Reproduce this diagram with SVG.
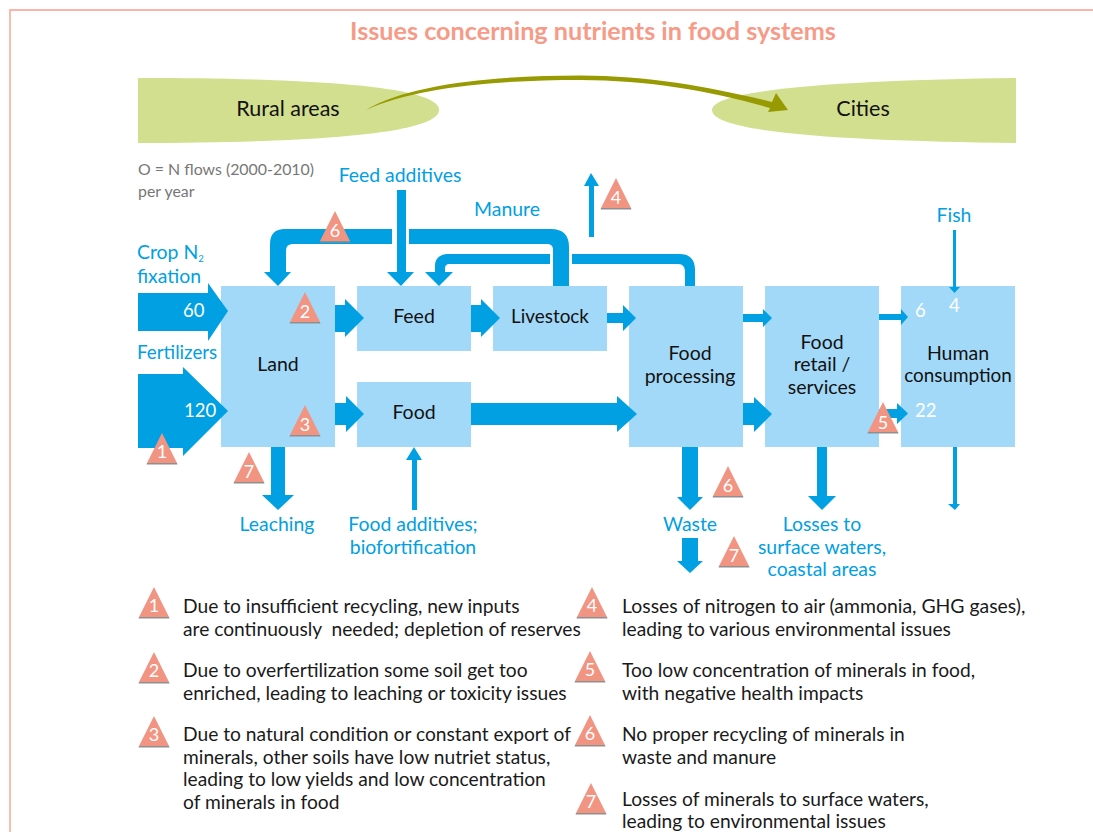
<svg xmlns="http://www.w3.org/2000/svg" width="1093" height="832" viewBox="0 0 1093 832">
<style>
text{font-family:"Lato","Liberation Sans",sans-serif}
.n{fill:#a3d9f8}
.z{fill:#d1df8f}
.f{fill:#00a0e3}
.t{font-size:19.500px;fill:#111;text-anchor:middle}
.zt{font-size:21.500px;fill:#111;text-anchor:middle}
.b{font-size:19.400px;fill:#00a0e3}
.m{text-anchor:middle}
.w{font-size:18.500px;fill:#fff}
.l{font-size:19.200px;fill:#1a1a1a}
.tri{fill:#f29482;stroke:none}
.sh{fill:#8f8f8f}
.tn{font-size:18px;fill:#fff;text-anchor:middle}
</style>
<defs>
<g id="tr"><path class="sh" d="M-15 0H15L15.500 1.500H-15.500Z"/><path class="tri" d="M0-30L15 0H-15Z"/></g>
</defs>
<path d="M1093 10H10V832" fill="none" stroke="#fbb5a8" stroke-width="1.800"/>
<text x="593" y="40" font-size="25.200" font-weight="700" fill="#f79a87" text-anchor="middle">Issues concerning nutrients in food systems</text>

<g id="rural"><path class="z" d="M138 78C300 78 439 85 439 110C439 135 300 143 138 143Z"/><text class="zt" x="288" y="116">Rural areas</text></g>
<g id="cities"><path class="z" d="M1016 78C860 80 712 88 712 110C712 134 860 141 1016 143Z"/><text class="zt" x="863" y="116">Cities</text></g>

<text x="138" y="175" font-size="15.900" fill="#777">O = N flows (2000-2010)</text>
<text x="138" y="197" font-size="15.900" fill="#777">per year</text>

<g id="land"><rect class="n" x="221" y="286" width="114" height="161"/><text class="t" x="278" y="371">Land</text></g>
<g id="feed"><rect class="n" x="357" y="286" width="114" height="65"/><text class="t" x="414" y="323">Feed</text></g>
<g id="food"><rect class="n" x="357" y="382" width="114" height="65"/><text class="t" x="414" y="419">Food</text></g>
<g id="livestock"><rect class="n" x="493" y="286" width="114" height="65"/><text class="t" x="550" y="323" style="font-size:18.900px">Livestock</text></g>
<g id="processing"><rect class="n" x="629" y="286" width="114" height="161"/><text class="t" x="690" y="360">Food</text><text class="t" x="690" y="383">processing</text></g>
<g id="retail"><rect class="n" x="765" y="286" width="114" height="161"/><text class="t" x="822" y="349">Food</text><text class="t" x="822" y="371">retail /</text><text class="t" x="822" y="394">services</text></g>
<g id="human"><rect class="n" x="901" y="286" width="114" height="161"/><text class="t" x="958" y="360">Human</text><text class="t" x="958" y="382" style="font-size:18.900px">consumption</text></g>

<g id="connectors">
<path d="M366 110C410 83 500 75.500 580 75.500C650 75.500 715 88 772 102L776 93L788 110L768 112L770 108C715 92 650 80 580 80C500 80 415 87 366 110Z" fill="#979a00"/>
<path class="f" d="M138 293H208V283L228 311L208 341V331H138Z"/>
<path class="f" d="M138 374H183V367L228 411L183 456V448H138Z"/>
<path class="f" d="M335 305H345V299L364 318L345 337V332H335Z"/>
<path class="f" d="M335 403H346V396L364 414L346 432V425H335Z"/>
<path class="f" d="M471 305H481V299L500 318L481 337V332H471Z"/>
<path class="f" d="M607 313H623V305L636 318L623 331V323H607Z"/>
<path class="f" d="M471 403H617V396L637 414L617 432V425H471Z"/>
<path class="f" d="M743 314H763V309L772 318L763 327V322H743Z"/>
<path class="f" d="M743 403H754V397L772 414L754 432V425H743Z"/>
<path class="f" d="M879 314H901V309L908 317L901 325V320H879Z"/>
<path class="f" d="M879 409H897V403L908 413.500L897 424V418H879Z"/>
<path class="f" d="M953 230H956V287H960L954.500 293L949 287H953Z"/>
<path class="f" d="M817 447H827V496H836L822 510L808 496H817Z"/>
<path class="f" d="M953 447H957V504H960L955 510L948 504H953Z"/>
<path class="f" d="M682 447H698V497H703L690 510L677 497H682Z"/>
<path class="f" d="M682 538H698V561H703L690 573L677 561H682Z"/>
<path class="f" d="M271 447H285V495H294L278 510L262 495H271Z"/>
<path class="f" d="M412 510V460H406L414 447L422 460H417V510Z"/>
<path class="f" d="M397 190H406V272H414L401 286L387 272H397Z"/>
<path class="f" d="M392 229H285C275 229 270 234 270 244V272H264L278 286L291 272H286V252C286 246 288 244 294 244H392Z"/>
<path class="f" d="M409 229H551C563 229 569 235 569 247V286H553V250C553 246 551 244 547 244H409Z"/>
<path class="f" d="M550 254H449C440 254 435 258 435 266V272H425L439 286L453 272H445V269C445 266 446 264 450 264H550Z"/>
<path class="f" d="M572 254H680C690 254 695 260 695 270V286H685V272C685 267 683 264 678 264H572Z"/>
<path class="f" d="M589 237V186H584L591 173L599 186H594V237Z"/>
</g>

<g id="flows">
<text class="w" x="183" y="317">60</text>
<text class="w" x="184" y="417">120</text>
<text class="w" x="915" y="317">6</text>
<text class="w" x="949" y="312">4</text>
<text class="w" x="915" y="417">22</text>
<text class="b" x="137" y="259">Crop N<tspan font-size="9.500" dy="3">2</tspan></text>
<text class="b" x="137" y="283">fixation</text>
<text class="b" x="137" y="359" style="font-size:18.800px">Fertilizers</text>
<text class="b m" x="400" y="182">Feed additives</text>
<text class="b m" x="507" y="216">Manure</text>
<text class="b m" x="954" y="222">Fish</text>
<text class="b m" x="277" y="531">Leaching</text>
<text class="b m" x="413" y="531">Food additives;</text>
<text class="b m" x="413" y="554">biofortification</text>
<text class="b m" x="690" y="531">Waste</text>
<text class="b m" x="822" y="531">Losses to</text>
<text class="b m" x="822" y="554">surface waters,</text>
<text class="b m" x="822" y="576">coastal areas</text>
</g>

<g id="badges">
<use href="#tr" x="162" y="463"/><text class="tn" x="162" y="458">1</text>
<use href="#tr" x="305" y="322"/><text class="tn" x="305" y="318">2</text>
<use href="#tr" x="305" y="435"/><text class="tn" x="305" y="431">3</text>
<use href="#tr" x="335" y="241"/><text class="tn" x="335" y="237">6</text>
<use href="#tr" x="249" y="482"/><text class="tn" x="249" y="478">7</text>
<use href="#tr" x="616" y="208"/><text class="tn" x="616" y="204">4</text>
<use href="#tr" x="883" y="432"/><text class="tn" x="883" y="429">5</text>
<use href="#tr" x="728" y="496"/><text class="tn" x="728" y="492">6</text>
<use href="#tr" x="734" y="566"/><text class="tn" x="734" y="562">7</text>
</g>

<g id="legend">
<use href="#tr" x="154" y="617"/><text class="tn" x="154" y="612">1</text>
<text class="l" x="183" y="613">Due to insufficient recycling, new inputs</text>
<text class="l" x="183" y="636" xml:space="preserve">are continuously  needed; depletion of reserves</text>
<use href="#tr" x="154" y="682"/><text class="tn" x="154" y="677">2</text>
<text class="l" x="183" y="677">Due to overfertilization some soil get too</text>
<text class="l" x="183" y="700">enriched, leading to leaching or toxicity issues</text>
<use href="#tr" x="154" y="746"/><text class="tn" x="154" y="741">3</text>
<text class="l" x="183" y="741">Due to natural condition or constant export of</text>
<text class="l" x="183" y="764">minerals, other soils have low nutriet status,</text>
<text class="l" x="183" y="786">leading to low yields and low concentration</text>
<text class="l" x="183" y="809">of minerals in food</text>
<use href="#tr" x="592" y="617"/><text class="tn" x="592" y="612">4</text>
<text class="l" x="622" y="613" style="font-size:19.400px">Losses of nitrogen to air (ammonia, GHG gases),</text>
<text class="l" x="622" y="636">leading to various environmental issues</text>
<use href="#tr" x="590" y="681"/><text class="tn" x="590" y="676">5</text>
<text class="l" x="622" y="677">Too low concentration of minerals in food,</text>
<text class="l" x="622" y="700">with negative health impacts</text>
<use href="#tr" x="590" y="745"/><text class="tn" x="590" y="740">6</text>
<text class="l" x="622" y="741">No proper recycling of minerals in</text>
<text class="l" x="622" y="764">waste and manure</text>
<use href="#tr" x="591" y="813"/><text class="tn" x="591" y="808">7</text>
<text class="l" x="622" y="806">Losses of minerals to surface waters,</text>
<text class="l" x="622" y="828">leading to environmental issues</text>
</g>
</svg>
